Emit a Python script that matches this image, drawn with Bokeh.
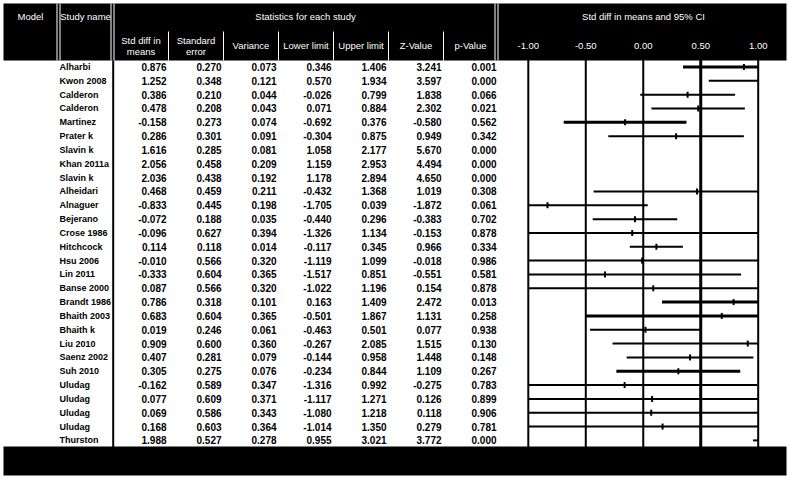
import numpy as np
from bokeh.plotting import figure
from bokeh.models import Range1d
from bokeh.core.properties import value
from bokeh.embed import file_html
from bokeh.resources import INLINE

# ---------------- data ----------------
studies = ["Alharbi", "Kwon 2008", "Calderon", "Calderon", "Martinez", "Prater k",
           "Slavin k", "Khan 2011a", "Slavin k", "Alheidari", "Alnaguer", "Bejerano",
           "Crose 1986", "Hitchcock", "Hsu 2006", "Lin 2011", "Banse 2000", "Brandt 1986",
           "Bhaith 2003", "Bhaith k", "Liu 2010", "Saenz 2002", "Suh 2010", "Uludag",
           "Uludag", "Uludag", "Uludag", "Thurston"]
std_diff = [0.876, 1.252, 0.386, 0.478, -0.158, 0.286, 1.616, 2.056, 2.036, 0.468, -0.833, -0.072,
            -0.096, 0.114, -0.010, -0.333, 0.087, 0.786, 0.683, 0.019, 0.909, 0.407, 0.305, -0.162,
            0.077, 0.069, 0.168, 1.988]
std_err = [0.270, 0.348, 0.210, 0.208, 0.273, 0.301, 0.285, 0.458, 0.438, 0.459, 0.445, 0.188,
           0.627, 0.118, 0.566, 0.604, 0.566, 0.318, 0.604, 0.246, 0.600, 0.281, 0.275, 0.589,
           0.609, 0.586, 0.603, 0.527]
variance = [0.073, 0.121, 0.044, 0.043, 0.074, 0.091, 0.081, 0.209, 0.192, 0.211, 0.198, 0.035,
            0.394, 0.014, 0.320, 0.365, 0.320, 0.101, 0.365, 0.061, 0.360, 0.079, 0.076, 0.347,
            0.371, 0.343, 0.364, 0.278]
lower = [0.346, 0.570, -0.026, 0.071, -0.692, -0.304, 1.058, 1.159, 1.178, -0.432, -1.705, -0.440,
         -1.326, -0.117, -1.119, -1.517, -1.022, 0.163, -0.501, -0.463, -0.267, -0.144, -0.234, -1.316,
         -1.117, -1.080, -1.014, 0.955]
upper = [1.406, 1.934, 0.799, 0.884, 0.376, 0.875, 2.177, 2.953, 2.894, 1.368, 0.039, 0.296,
         1.134, 0.345, 1.099, 0.851, 1.196, 1.409, 1.867, 0.501, 2.085, 0.958, 0.844, 0.992,
         1.271, 1.218, 1.350, 3.021]
z_value = [3.241, 3.597, 1.838, 2.302, -0.580, 0.949, 5.670, 4.494, 4.650, 1.019, -1.872, -0.383,
           -0.153, 0.966, -0.018, -0.551, 0.154, 2.472, 1.131, 0.077, 1.515, 1.448, 1.109, -0.275,
           0.126, 0.118, 0.279, 3.772]
p_value = [0.001, 0.000, 0.066, 0.021, 0.562, 0.342, 0.000, 0.000, 0.000, 0.308, 0.061, 0.702,
           0.878, 0.334, 0.986, 0.581, 0.878, 0.013, 0.258, 0.938, 0.130, 0.148, 0.267, 0.783,
           0.899, 0.906, 0.781, 0.000]
tick_values = [-1.0, -0.5, 0.0, 0.5, 1.0]
tick_labels = ["-1.00", "-0.50", "0.00", "0.50", "1.00"]
stat_headers = [["Std diff in", "means"], ["Standard", "error"], ["Variance"], ["Lower limit"],
                ["Upper limit"], ["Z-Value"], ["p-Value"]]

# ---------------- layout (pixels) ----------------
W, H = 788, 482
FONT = value("Liberation Sans Narrow, Liberation Sans, Arial, sans-serif")
row_y0, row_h = 66.5, 13.83
n = len(studies)
rows = np.arange(n)

es_x_min, es_x_max = 527.8, 757.7          # pixel positions of -1 and +1
ppu = (es_x_max - es_x_min) / 2.0

p = figure(width=W, height=H, output_backend="svg", toolbar_location=None,
           x_range=Range1d(0, W), y_range=Range1d(H, 0), min_border=0)
p.axis.visible = False
p.grid.visible = False
p.outline_line_color = None
p.background_fill_color = "white"
p.border_fill_color = "white"
p.extra_x_ranges = {"es": Range1d(-1 - es_x_min / ppu, 1 + (W - es_x_max) / ppu)}
p.extra_y_ranges = {"rows": Range1d((H - row_y0) / row_h, (0 - row_y0) / row_h)}

# header and footer bands
p.quad(left=[3, 3], right=[786, 786], top=[3, 446], bottom=[60, 475],
       fill_color="black", line_color=None)

# header white separators
p.segment(x0=[56.5, 59.5, 110.5, 113.5, 494.5, 497.5], y0=[3] * 6,
          x1=[56.5, 59.5, 110.5, 113.5, 494.5, 497.5], y1=[60] * 6,
          line_color="white", line_width=1)
col_edges = [113, 168, 223, 278, 333, 388, 443, 497]
p.segment(x0=col_edges[1:-1], y0=[31] * 6, x1=col_edges[1:-1], y1=[60] * 6,
          line_color="white", line_width=1)

# header texts
hdr = dict(text_color="white", text_font=FONT, text_font_size="9.5px",
           text_align="center", text_baseline="middle")
p.text(x=[30, 85, 305, 643], y=[16, 16, 16, 16],
       text=["Model", "Study name", "Statistics for each study", "Std diff in means and 95% CI"], **hdr)
hx, hy, ht = [], [], []
for i, lines in enumerate(stat_headers):
    cx = (col_edges[i] + col_edges[i + 1]) / 2
    if len(lines) == 2:
        hx += [cx, cx]; hy += [40, 51]; ht += lines
    else:
        hx.append(cx); hy.append(45); ht.append(lines[0])
p.text(x=hx, y=hy, text=ht, **hdr)
p.text(x=tick_values, y=[45] * len(tick_values), text=tick_labels, x_range_name="es", **hdr)

# vertical lines in the plot area
p.segment(x0=tick_values, y0=[57] * 5, x1=tick_values, y1=[447] * 5, x_range_name="es",
          line_color="black", line_width=[2, 2, 2, 3, 2])
# table separator line
p.segment(x0=[112.7], y0=[60], x1=[112.7], y1=[447], line_color="black", line_width=2)

# table body
body = dict(text_color="black", text_font=FONT, text_font_style="bold",
            text_baseline="middle", y_range_name="rows")
p.text(x=[59] * n, y=rows, text=studies, text_align="left", text_font_size="9px", **body)
cols = [std_diff, std_err, variance, lower, upper, z_value, p_value]
right_edges = [166, 221, 276, 331, 386, 441, 496]
for vals, xr in zip(cols, right_edges):
    p.text(x=[xr] * n, y=rows, text=[f"{v:.3f}" for v in vals], text_align="right",
           text_font_size="10px", **body)

# forest plot: CI lines clipped to [-1, 1] and point estimates
lo = np.array(lower); hi = np.array(upper); est = np.array(std_diff)
visible = lo < 1.0
thick = {4, 17, 18, 22, 0}
widths = [3 if i in thick else 2 for i in range(n)]
p.segment(x0=np.clip(lo, -1, 1)[visible], x1=np.clip(hi, -1, 1)[visible],
          y0=rows[visible], y1=rows[visible], x_range_name="es", y_range_name="rows",
          line_color="black", line_width=np.array(widths)[visible].tolist())
inside = (est >= -1) & (est <= 1)
p.rect(x=est[inside], y=rows[inside], width=2, height=6, width_units="screen",
       height_units="screen", x_range_name="es", y_range_name="rows",
       fill_color="black", line_color=None)

open("out.html", "w").write(file_html(p, INLINE))
